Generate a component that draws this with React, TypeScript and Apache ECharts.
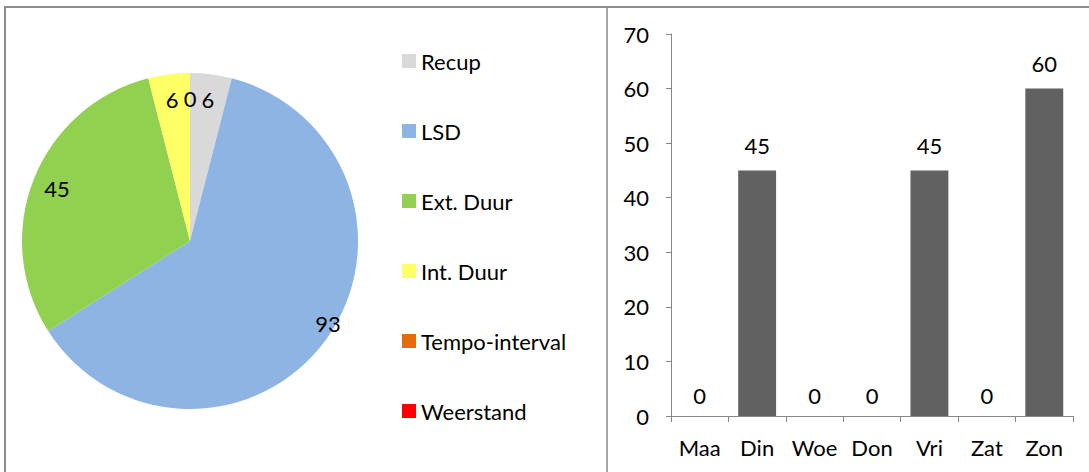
import React, { useEffect, useRef } from "react";
import * as echarts from "echarts";

const pieNames = ["Recup", "LSD", "Ext. Duur", "Int. Duur", "Tempo-interval", "Weerstand"];
const pieValues = [6, 93, 45, 6, 0, 0];
const pieColors = ["#D9D9D9", "#8EB4E3", "#92D050", "#FFFF66", "#E46C0A", "#FF0000"];

const days = ["Maa", "Din", "Woe", "Don", "Vri", "Zat", "Zon"];
const dayValues = [0, 45, 0, 0, 45, 0, 60];

const yMin = 0;
const yMax = 70;
const yInterval = 10;

const FONT = "Lato";
const FS = 22;

export default function App() {
  const ref = useRef<HTMLDivElement>(null);

  useEffect(() => {
    if (!ref.current) return;
    const chart = echarts.init(ref.current, undefined, { renderer: "svg" });

    const baseData = pieNames.map((n, i) => ({
      name: n,
      value: pieValues[i],
      itemStyle: { color: pieColors[i] },
    }));

    const overlayData = (showFn: (n: string) => boolean) =>
      pieNames.map((n, i) => ({
        name: n,
        value: pieValues[i],
        itemStyle: { color: "rgba(0,0,0,0)" },
        label: { show: showFn(n) },
      }));

    const labelStyle = {
      position: "inside" as const,
      formatter: "{c}",
      color: "#000",
      fontFamily: FONT,
      fontSize: FS,
    };

    const barData = dayValues.map((v) => ({
      value: v,
      label: { distance: v === 0 ? 10 : 14 },
    }));

    chart.setOption({
      animation: false,
      backgroundColor: "#fff",
      textStyle: { fontFamily: FONT },
      legend: {
        orient: "vertical",
        left: 397,
        top: 45,
        padding: 5,
        itemWidth: 14,
        itemHeight: 14,
        itemGap: 48,
        icon: "rect",
        selectedMode: false,
        textStyle: { fontFamily: FONT, fontSize: FS, lineHeight: 22, color: "#000" },
        data: pieNames.map((n, i) => ({ name: n, itemStyle: { color: pieColors[i] } })),
      },
      grid: { left: 671, right: 16, top: 34, bottom: 56 },
      xAxis: {
        type: "category",
        data: days,
        axisLine: { lineStyle: { color: "#868686", width: 1 } },
        axisTick: { show: true, length: 6, interval: 0, lineStyle: { color: "#868686" } },
        axisLabel: { color: "#000", fontFamily: FONT, fontSize: FS, margin: 20, interval: 0 },
      },
      yAxis: {
        type: "value",
        min: yMin,
        max: yMax,
        interval: yInterval,
        axisLine: { show: true, lineStyle: { color: "#868686", width: 1 } },
        axisTick: { show: true, length: 5, lineStyle: { color: "#868686" } },
        splitLine: { show: false },
        axisLabel: { color: "#000", fontFamily: FONT, fontSize: FS, margin: 22 },
      },
      series: [
        {
          type: "pie",
          center: [190, 241],
          radius: [0, 168],
          startAngle: 90,
          clockwise: true,
          label: { show: false },
          labelLine: { show: false },
          silent: true,
          data: baseData,
        },
        {
          type: "pie",
          center: [190, 241],
          radius: [112, 168],
          startAngle: 90,
          clockwise: true,
          silent: true,
          label: labelStyle,
          labelLine: { show: false },
          data: overlayData((n) => n !== "LSD"),
        },
        {
          type: "pie",
          center: [190, 241],
          radius: [148, 168],
          startAngle: 95,
          clockwise: true,
          silent: true,
          label: labelStyle,
          labelLine: { show: false },
          data: overlayData((n) => n === "LSD"),
        },
        {
          type: "bar",
          data: barData,
          barCategoryGap: "34%",
          itemStyle: { color: "#616161" },
          label: {
            show: true,
            position: "top",
            color: "#000",
            fontFamily: FONT,
            fontSize: FS,
          },
        },
      ],
      graphic: [
        { type: "line", shape: { x1: 4, y1: 7, x2: 1089, y2: 7 }, style: { stroke: "#8c8c8c", lineWidth: 2 } },
        { type: "line", shape: { x1: 5, y1: 6, x2: 5, y2: 472 }, style: { stroke: "#8c8c8c", lineWidth: 2 } },
        { type: "line", shape: { x1: 607, y1: 6, x2: 607, y2: 472 }, style: { stroke: "#8c8c8c", lineWidth: 1.5 } },
      ],
    });

    return () => chart.dispose();
  }, []);

  return (
    <div
      ref={ref}
      style={{ position: "fixed", left: 0, top: 0, width: 1089, height: 472 }}
    />
  );
}
